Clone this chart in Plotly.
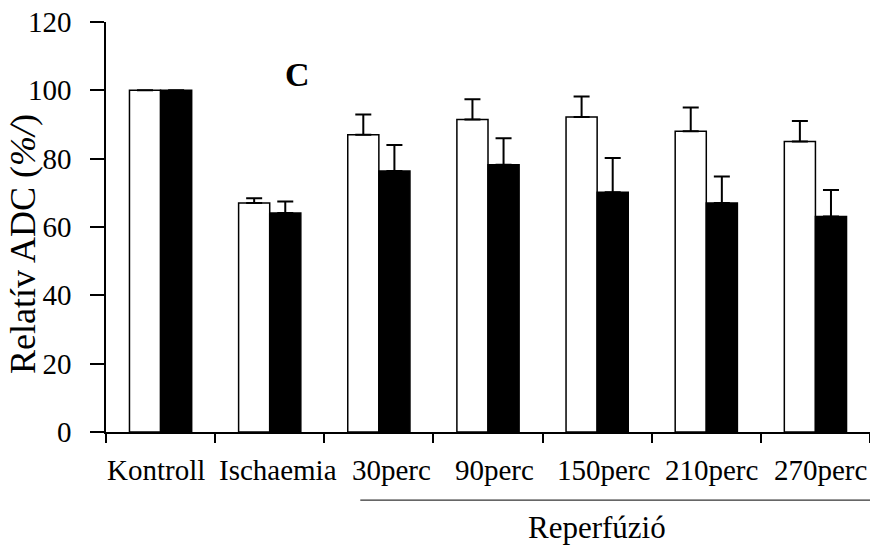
import plotly.graph_objects as go

categories = ["Kontroll", "Ischaemia", "30perc", "90perc", "150perc", "210perc", "270perc"]
white_vals = [100, 67.0, 87.0, 91.5, 92.2, 88.0, 85.0]
white_err_top = [100, 68.4, 92.9, 97.4, 98.2, 95.0, 91.0]
black_vals = [100, 64.1, 76.4, 78.2, 70.2, 67.0, 63.1]
black_err_top = [100, 67.5, 84.0, 86.0, 80.2, 74.8, 70.8]
y_ticks = [0, 20, 40, 60, 80, 100, 120]

FONT = "Liberation Serif, Times New Roman, serif"
# horizontal nudges of the category labels (in category units) as in the original
label_nudge = [-0.045, 0.075, 0.12, 0.055, 0.055, 0.05, 0.045]

def up_err(tops, vals):
    return [t - v for t, v in zip(tops, vals)]

fig = go.Figure()
fig.add_trace(go.Bar(
    x=categories, y=white_vals, name="white",
    marker=dict(color="white", line=dict(color="black", width=1.5)),
    error_y=dict(type="data", symmetric=False, array=up_err(white_err_top, white_vals),
                 arrayminus=[0] * len(white_vals), color="black", thickness=2, width=8,
                 visible=True),
))
fig.add_trace(go.Bar(
    x=categories, y=black_vals, name="black",
    marker=dict(color="black", line=dict(color="black", width=1.5)),
    error_y=dict(type="data", symmetric=False, array=up_err(black_err_top, black_vals),
                 arrayminus=[0] * len(black_vals), color="black", thickness=2, width=8,
                 visible=True),
))

fig.update_layout(
    width=870, height=545,
    margin=dict(l=106, r=0, t=22, b=113),
    paper_bgcolor="white", plot_bgcolor="white",
    barmode="group", bargap=0.43, bargroupgap=0,
    showlegend=False,
    font=dict(family=FONT, color="black", size=28),
)
fig.update_xaxes(
    type="category", range=[-0.5, 6.5],
    showline=True, linecolor="black", linewidth=1.5,
    ticks="outside", ticklen=9, tickwidth=1.5, tickcolor="black",
    tickson="boundaries", showgrid=False, showticklabels=False,
)
fig.update_yaxes(
    range=[0, 120], tickvals=y_ticks,
    showline=True, linecolor="black", linewidth=1.5,
    ticks="outside", ticklen=14, tickwidth=1.5, tickcolor="black",
    showgrid=False, zeroline=False,
    tickfont=dict(family=FONT, size=29), ticklabelstandoff=13,
    ticklabeloverflow="allow",
)

for i, (cat, dx) in enumerate(zip(categories, label_nudge)):
    fig.add_annotation(text=cat, xref="x", yref="paper", x=i + dx, y=-0.093,
                       xanchor="center", yanchor="middle", showarrow=False,
                       font=dict(family=FONT, size=29))

fig.add_annotation(text="Relatív ADC (<i>%/</i>)", xref="paper", yref="paper",
                   x=-0.109, y=0.458, xanchor="center", yanchor="middle",
                   textangle=-90, showarrow=False, font=dict(family=FONT, size=36))
fig.add_annotation(text="<b>C</b>", xref="x", yref="y", x=1.25, y=104.5,
                   xanchor="center", yanchor="middle", showarrow=False,
                   font=dict(family=FONT, size=34))
fig.add_shape(type="line", xref="x", yref="paper", x0=1.83, x1=6.5, y0=-0.166, y1=-0.166,
              line=dict(color="#333333", width=1.2))
fig.add_annotation(text="Reperfúzió", xref="x", yref="paper", x=4.0, y=-0.234,
                   xanchor="center", yanchor="middle", showarrow=False,
                   font=dict(family=FONT, size=31))

fig.write_html(
    "out.html",
    config={"displayModeBar": False},
    post_script="document.body.style.margin='0';document.body.style.overflow='hidden';",
)
